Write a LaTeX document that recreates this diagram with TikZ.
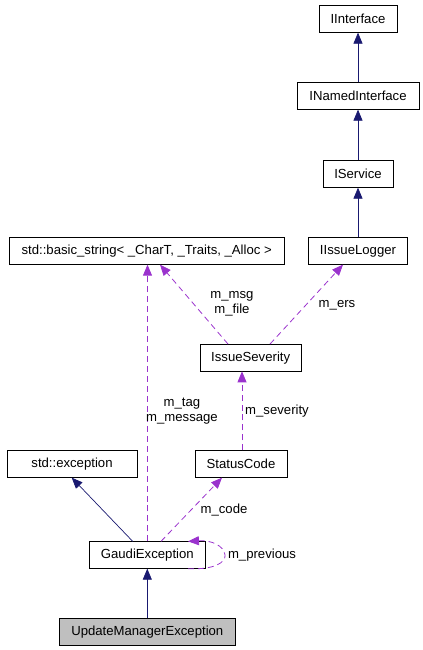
\documentclass[tikz,border=0pt]{standalone}
\usepackage{fontspec}
\setmainfont{Liberation Sans}
\usetikzlibrary{arrows.meta}
\definecolor{navy}{HTML}{191970}
\definecolor{purp}{HTML}{9A32CD}
\begin{document}
\begin{tikzpicture}[x=1bp,y=-1bp,
  box/.style={draw=black,fill=white,minimum height=26.5bp,inner xsep=3pt,font=\fontsize{13.2pt}{15pt}\selectfont,anchor=center,line width=0.8pt},
  inh/.style={draw=navy,line width=0.7pt,-{Triangle[length=11pt,width=9pt]}},
  use/.style={draw=purp,line width=0.8pt,dash pattern=on 6pt off 4pt,-{Triangle[length=11pt,width=9pt]}},
  lbl/.style={font=\fontsize{13.2pt}{15pt}\selectfont,align=center,inner sep=1pt}]
\useasboundingbox (0,0) rectangle (422,650);
\node[box,minimum width=78bp] (ii) at (358,19) {IInterface};
\node[box,minimum width=122bp] (ini) at (358,96) {INamedInterface};
\node[box,minimum width=70bp] (is) at (358,174) {IService};
\node[box,minimum width=99bp] (il) at (358,251) {IIssueLogger};
\node[box,minimum width=275bp] (bs) at (146.7,251) {std::basic\_string< \_CharT, \_Traits, \_Alloc >};
\node[box,minimum width=101bp] (sev) at (250.7,357.7) {IssueSeverity};
\node[box,minimum width=92bp] (sc) at (241,464) {StatusCode};
\node[box,minimum width=130bp] (se) at (72,464) {std::exception};
\node[box,minimum width=116bp] (ge) at (147.3,555) {GaudiException};
\node[box,minimum width=176bp,fill={rgb,255:red,191;green,191;blue,191}] (um) at (147.3,632) {UpdateManagerException};
\draw[inh] (ini) -- (ii);
\draw[inh] (is) -- (ini);
\draw[inh] (il) -- (is);
\draw[inh] (um) -- (ge);
\draw[inh] (ge.north -| 132.7,0) -- (se.south -| 71.7,0);
\draw[use] (ge.north -| 147.5,0) -- (bs.south -| 147.5,0);
\draw[use] (ge.north -| 161,0) -- (sc.south -| 222,0);
\draw[use] (sc.north -| 242,0) -- (sev.south -| 242,0);
\draw[use] (sev.north -| 228,0) -- (bs.south -| 160,0);
\draw[use] (sev.north -| 270,0) -- (il.south -| 343,0);
\coordinate (lp1) at (ge.south -| 188,0);
\coordinate (lp2) at (ge.north -| 188,0);
\draw[use] (lp1) .. controls (215,570) and (226,562) .. (225,555) .. controls (224,546) and (212,540) .. (lp2);
\node[lbl] (l1) at (182,411) {m\_tag\\m\_message};
\node[lbl] (l2) at (224,510) {m\_code};
\node[lbl] (l3) at (262,555) {m\_previous};
\node[lbl] (l4) at (277,411) {m\_severity};
\node[lbl] (l5) at (232,304) {m\_msg\\m\_file};
\node[lbl] (l6) at (337,305) {m\_ers};
\end{tikzpicture}
\end{document}
